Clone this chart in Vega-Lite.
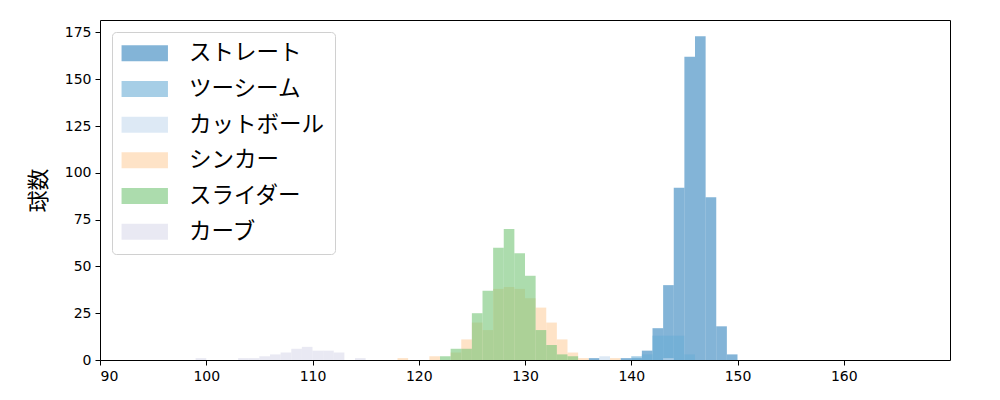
{
  "$schema": "https://vega.github.io/schema/vega-lite/v6.json",
  "width": 850,
  "height": 340,
  "autosize": {"type": "none"},
  "padding": {"left": 100, "top": 20, "right": 50, "bottom": 40},
  "data": {
    "values": [
      {"type": "ストレート", "bin": 136, "bin_end": 137, "count": 1},
      {"type": "ストレート", "bin": 139, "bin_end": 140, "count": 1},
      {"type": "ストレート", "bin": 140, "bin_end": 141, "count": 1},
      {"type": "ストレート", "bin": 141, "bin_end": 142, "count": 5},
      {"type": "ストレート", "bin": 142, "bin_end": 143, "count": 17},
      {"type": "ストレート", "bin": 143, "bin_end": 144, "count": 40},
      {"type": "ストレート", "bin": 144, "bin_end": 145, "count": 92},
      {"type": "ストレート", "bin": 145, "bin_end": 146, "count": 162},
      {"type": "ストレート", "bin": 146, "bin_end": 147, "count": 173},
      {"type": "ストレート", "bin": 147, "bin_end": 148, "count": 87},
      {"type": "ストレート", "bin": 148, "bin_end": 149, "count": 18},
      {"type": "ストレート", "bin": 149, "bin_end": 150, "count": 3},
      {"type": "ツーシーム", "bin": 140, "bin_end": 141, "count": 2},
      {"type": "ツーシーム", "bin": 141, "bin_end": 142, "count": 3},
      {"type": "ツーシーム", "bin": 142, "bin_end": 143, "count": 13},
      {"type": "ツーシーム", "bin": 143, "bin_end": 144, "count": 13},
      {"type": "ツーシーム", "bin": 144, "bin_end": 145, "count": 13},
      {"type": "ツーシーム", "bin": 145, "bin_end": 146, "count": 3},
      {"type": "カットボール", "bin": 137, "bin_end": 138, "count": 2},
      {"type": "カットボール", "bin": 143, "bin_end": 144, "count": 1},
      {"type": "シンカー", "bin": 118, "bin_end": 119, "count": 1},
      {"type": "シンカー", "bin": 121, "bin_end": 122, "count": 2},
      {"type": "シンカー", "bin": 123, "bin_end": 124, "count": 4},
      {"type": "シンカー", "bin": 124, "bin_end": 125, "count": 11},
      {"type": "シンカー", "bin": 125, "bin_end": 126, "count": 20},
      {"type": "シンカー", "bin": 126, "bin_end": 127, "count": 16},
      {"type": "シンカー", "bin": 127, "bin_end": 128, "count": 38},
      {"type": "シンカー", "bin": 128, "bin_end": 129, "count": 39},
      {"type": "シンカー", "bin": 129, "bin_end": 130, "count": 38},
      {"type": "シンカー", "bin": 130, "bin_end": 131, "count": 33},
      {"type": "シンカー", "bin": 131, "bin_end": 132, "count": 28},
      {"type": "シンカー", "bin": 132, "bin_end": 133, "count": 20},
      {"type": "シンカー", "bin": 133, "bin_end": 134, "count": 11},
      {"type": "シンカー", "bin": 134, "bin_end": 135, "count": 4},
      {"type": "シンカー", "bin": 135, "bin_end": 136, "count": 1},
      {"type": "シンカー", "bin": 138, "bin_end": 139, "count": 1},
      {"type": "スライダー", "bin": 122, "bin_end": 123, "count": 2},
      {"type": "スライダー", "bin": 123, "bin_end": 124, "count": 6},
      {"type": "スライダー", "bin": 124, "bin_end": 125, "count": 6},
      {"type": "スライダー", "bin": 125, "bin_end": 126, "count": 25},
      {"type": "スライダー", "bin": 126, "bin_end": 127, "count": 37},
      {"type": "スライダー", "bin": 127, "bin_end": 128, "count": 60},
      {"type": "スライダー", "bin": 128, "bin_end": 129, "count": 70},
      {"type": "スライダー", "bin": 129, "bin_end": 130, "count": 57},
      {"type": "スライダー", "bin": 130, "bin_end": 131, "count": 45},
      {"type": "スライダー", "bin": 131, "bin_end": 132, "count": 16},
      {"type": "スライダー", "bin": 132, "bin_end": 133, "count": 8},
      {"type": "スライダー", "bin": 133, "bin_end": 134, "count": 3},
      {"type": "スライダー", "bin": 134, "bin_end": 135, "count": 2},
      {"type": "カーブ", "bin": 99, "bin_end": 100, "count": 1},
      {"type": "カーブ", "bin": 103, "bin_end": 104, "count": 1},
      {"type": "カーブ", "bin": 104, "bin_end": 105, "count": 1},
      {"type": "カーブ", "bin": 105, "bin_end": 106, "count": 2},
      {"type": "カーブ", "bin": 106, "bin_end": 107, "count": 3},
      {"type": "カーブ", "bin": 107, "bin_end": 108, "count": 4},
      {"type": "カーブ", "bin": 108, "bin_end": 109, "count": 6},
      {"type": "カーブ", "bin": 109, "bin_end": 110, "count": 7},
      {"type": "カーブ", "bin": 110, "bin_end": 111, "count": 5},
      {"type": "カーブ", "bin": 111, "bin_end": 112, "count": 5},
      {"type": "カーブ", "bin": 112, "bin_end": 113, "count": 4},
      {"type": "カーブ", "bin": 114, "bin_end": 115, "count": 1}
    ]
  },
  "mark": {"type": "rect", "fillOpacity": 0.6, "strokeWidth": 0},
  "encoding": {
    "x": {
      "field": "bin", "type": "quantitative",
      "scale": {"domain": [90, 170], "nice": false, "zero": false},
      "axis": {"values": [90, 100, 110, 120, 130, 140, 150, 160], "title": null}
    },
    "x2": {"field": "bin_end"},
    "y": {
      "field": "count", "type": "quantitative",
      "scale": {"domain": [0, 181.65], "nice": false},
      "axis": {"values": [0, 25, 50, 75, 100, 125, 150, 175], "title": "球数"}
    },
    "y2": {"datum": 0},
    "color": {
      "field": "type", "type": "nominal",
      "scale": {
        "domain": ["ストレート", "ツーシーム", "カットボール", "シンカー", "スライダー", "カーブ"],
        "range": ["#3182bd", "#6baed6", "#c6dbef", "#fdd0a2", "#74c476", "#dadaeb"]
      },
      "legend": {
        "title": null,
        "orient": "top-left",
        "offset": 12,
        "padding": 10,
        "fillColor": "white",
        "strokeColor": "#d0d0d0",
        "cornerRadius": 4,
        "labelFont": "Noto Sans CJK JP",
        "labelFontSize": 22.5,
        "labelColor": "black",
        "symbolType": "M-2.9,-1L2.9,-1L2.9,1L-2.9,1Z",
        "symbolSize": 256,
        "symbolOffset": 11.5,
        "labelOffset": 33,
        "rowPadding": 12.7,
        "symbolOpacity": 0.6,
        "symbolStrokeWidth": 0
      }
    }
  },
  "config": {
    "view": {"stroke": "black", "strokeWidth": 1},
    "axis": {
      "grid": false,
      "domain": false,
      "tickColor": "black",
      "tickSize": 5,
      "tickWidth": 1,
      "labelFont": "DejaVu Sans",
      "labelFontSize": 14,
      "labelColor": "black",
      "labelPadding": 4,
      "titleFont": "Noto Sans CJK JP",
      "titleFontSize": 22,
      "titleFontWeight": "normal",
      "titleColor": "black",
      "titlePadding": 14
    }
  }
}
